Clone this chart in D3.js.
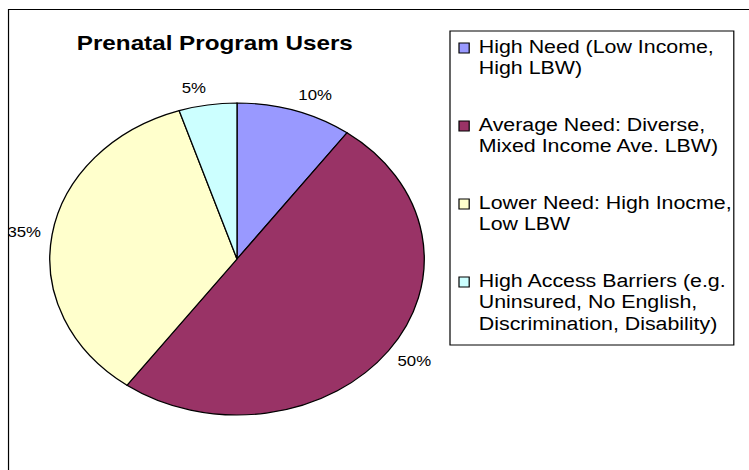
<!DOCTYPE html>
<meta charset="utf-8">
<script src="https://cdnjs.cloudflare.com/ajax/libs/d3/7.8.5/d3.min.js"></script>
<style>
  body { margin: 0; background: #fff; }
  text { font-family: "Liberation Sans", Arial, sans-serif; }
</style>
<body>
<div id="chart"></div>
<script>
  var categories = ["High Need (Low Income, High LBW)",
    "Average Need: Diverse, Mixed Income Ave. LBW)",
    "Lower Need: High Inocme, Low LBW",
    "High Access Barriers (e.g. Uninsured, No English, Discrimination, Disability)"]
  var legendLines = [
    ["High Need (Low Income,", "High LBW)"],
    ["Average Need: Diverse,", "Mixed Income Ave. LBW)"],
    ["Lower Need: High Inocme,", "Low LBW"],
    ["High Access Barriers (e.g.", "Uninsured, No English,", "Discrimination, Disability)"]
  ]
  var values = [10, 50, 35, 5]
  var labels = ["10%", "50%", "35%", "5%"]
  var colors = ["#9999FF", "#993366", "#FFFFCC", "#CCFFFF"]

  var WIDTH = 749, HEIGHT = 470
  // the original picture is stretched sideways, so draw in narrow units and scale x
  var SX = 1.2

  var svg = d3.select("#chart").append("svg")
    .attr("width", WIDTH)
    .attr("height", HEIGHT)

  var g = svg.append("g").attr("transform", "scale(" + SX + ",1)")

  g.append("rect")
    .attr("x", 7.1).attr("y", 9.5)
    .attr("width", 700).attr("height", 500)
    .attr("fill", "none").attr("stroke", "#000").attr("stroke-width", 1)

  g.append("text")
    .attr("x", 179).attr("y", 50.5)
    .attr("text-anchor", "middle")
    .attr("font-size", 20.2).attr("font-weight", "bold")
    .text("Prenatal Program Users")

  var r = 156
  var pie = d3.pie().sort(null).value(function(d) { return d })
  var arc = d3.arc().innerRadius(0).outerRadius(r)
  var labelArc = d3.arc().innerRadius(r * 1.06).outerRadius(r * 1.06)

  var pg = g.append("g").attr("transform", "translate(197.5,259)")
  var arcs = pie(values)

  pg.selectAll("path").data(arcs).enter().append("path")
    .attr("d", arc)
    .attr("fill", function(d, i) { return colors[i] })
    .attr("stroke", "#000").attr("stroke-width", 1.1)

  // labels sit just outside the rim, box pushed away from the pie
  pg.selectAll("text").data(arcs).enter().append("text")
    .attr("dy", "0.35em")
    .attr("text-anchor", "middle")
    .attr("font-size", 14)
    .text(function(d, i) { return labels[i] })
    .attr("transform", function(d) {
      var c = labelArc.centroid(d)
      var a = (d.startAngle + d.endAngle) / 2
      var w = this.getComputedTextLength()
      var x = c[0] + (Math.sin(a) < 0 ? -1 : 1) * w / 2
      var y = c[1] - 7.5 * Math.cos(a)
      return "translate(" + x + "," + y + ")"
    })

  // legend
  var lg = g.append("g").attr("transform", "translate(374.5,30.5)")
  lg.append("rect")
    .attr("x", 0.5).attr("y", 0.5)
    .attr("width", 236.5).attr("height", 314)
    .attr("fill", "#fff").attr("stroke", "#000").attr("stroke-width", 1)

  var item = lg.selectAll("g.item").data(categories).enter().append("g")
    .attr("class", "item")
    .attr("transform", function(d, i) { return "translate(0," + (22 + i * 78) + ")" })

  item.append("rect")
    .attr("x", 8).attr("y", -9.5)
    .attr("width", 8.5).attr("height", 10)
    .attr("fill", function(d, i) { return colors[i] })
    .attr("stroke", "#000").attr("stroke-width", 1)

  item.each(function(d, i) {
    d3.select(this).selectAll("text").data(legendLines[i]).enter().append("text")
      .attr("x", 24.5)
      .attr("y", function(t, j) { return j * 22 })
      .attr("font-size", 17.8)
      .text(function(t) { return t })
  })
</script>
</body>
